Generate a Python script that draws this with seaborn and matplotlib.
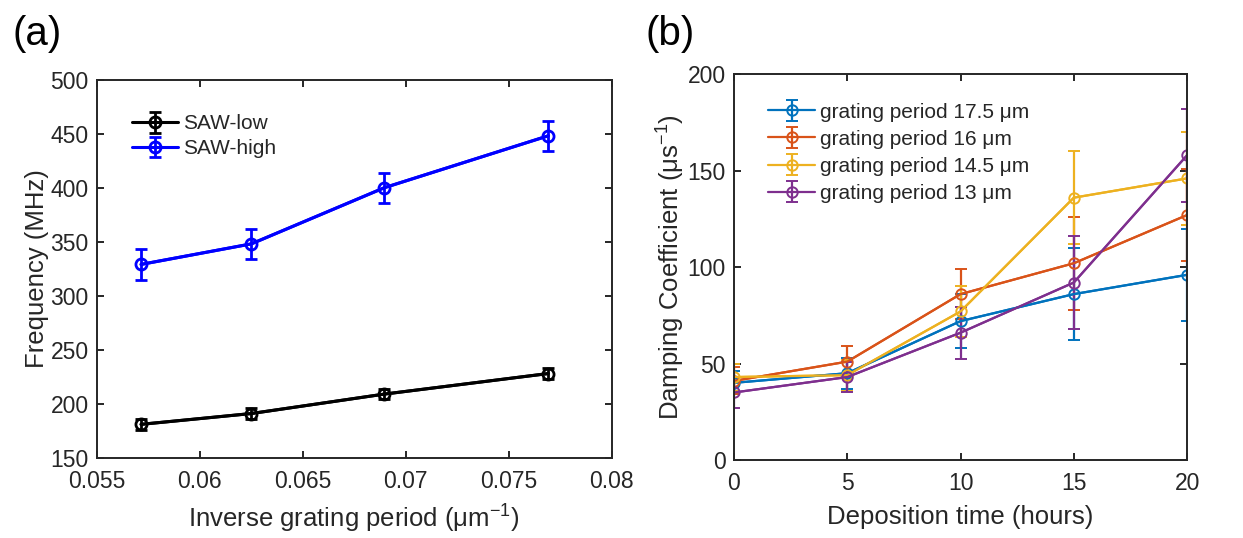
import numpy as np
import pandas as pd
import matplotlib
matplotlib.use("Agg")
import matplotlib.pyplot as plt
import seaborn as sns

# ---- data: panel (a)
inv_period = [1/17.5, 1/16, 1/14.5, 1/13]
saw_low = [181, 191, 209, 228]
saw_low_err = [5, 5, 5, 5]
saw_high = [329, 348, 400, 448]
saw_high_err = [14, 14, 14, 14]
a_xticks = [0.055, 0.06, 0.065, 0.07, 0.075, 0.08]
a_xticklabels = ["0.055", "0.06", "0.065", "0.07", "0.075", "0.08"]

# ---- data: panel (b)
dep_time = [0, 5, 10, 15, 20]
series_names = ["grating period 17.5 μm", "grating period 16 μm",
                "grating period 14.5 μm", "grating period 13 μm"]
damp_175 = [40, 45, 72, 86, 96]
damp_16 = [41, 51, 86, 102, 127]
damp_145 = [43, 44, 77, 136, 146]
damp_13 = [35, 43, 66, 92, 158]
err_175 = [6, 8, 14, 24, 24]
err_16 = [7, 8, 13, 24, 24]
err_145 = [7, 8, 13, 24, 24]
err_13 = [8, 8, 13.5, 24, 24]

sns.set_theme(style="ticks")
plt.rcParams['font.family'] = ['Liberation Sans', 'DejaVu Sans']
plt.rcParams['mathtext.fontset'] = 'custom'
plt.rcParams['mathtext.rm'] = 'Liberation Sans'
plt.rcParams['mathtext.it'] = 'Liberation Sans'
TXT = '#262626'
TICK_FS = 16.5
LAB_FS = 18.5
LEG_FS = 15

fig = plt.figure(figsize=(12.43, 5.38), dpi=100)
axa = fig.add_axes([0.078, 0.149, 0.414, 0.703])
axb = fig.add_axes([0.5905, 0.145, 0.3645, 0.717])

def style(ax):
    for s in ax.spines.values():
        s.set_color(TXT)
        s.set_linewidth(1.4)
    ax.tick_params(axis='both', direction='in', top=True, right=True, length=5, width=1.4,
                   colors=TXT, labelsize=TICK_FS, labelcolor=TXT)
    ax.tick_params(axis='x', pad=9)
    ax.tick_params(axis='y', pad=6)

# panel (a)
dfa = pd.DataFrame({"x": inv_period * 2,
                    "y": saw_low + saw_high,
                    "s": ["SAW-low"] * 4 + ["SAW-high"] * 4})
sns.lineplot(data=dfa, x="x", y="y", hue="s", palette={"SAW-low": "black", "SAW-high": "blue"},
             ax=axa, legend=False, linewidth=2.2, marker='o', markersize=8,
             markerfacecolor='none', markeredgewidth=2)
for y, e, c, lab in [(saw_low, saw_low_err, 'black', 'SAW-low'),
                     (saw_high, saw_high_err, 'blue', 'SAW-high')]:
    axa.errorbar(inv_period, y, yerr=e, fmt='-o', color=c, lw=2.2, ms=8, mfc='none',
                 mew=2, capsize=4, capthick=2, elinewidth=2, label=lab)
axa.set_xlim(0.055, 0.08)
axa.set_ylim(150, 500)
axa.set_xticks(a_xticks)
axa.set_xticklabels(a_xticklabels)
axa.set_yticks(np.arange(150, 501, 50))
axa.set_xlabel("Inverse grating period (μm$^{-1}$)", fontsize=LAB_FS, color=TXT, labelpad=7)
axa.set_ylabel("Frequency (MHz)", fontsize=LAB_FS, color=TXT, labelpad=1)
style(axa)
axa.legend(loc='upper left', frameon=False, fontsize=LEG_FS, handlelength=2.2,
           borderaxespad=0.0, handletextpad=0.25, labelspacing=0.28,
           bbox_to_anchor=(0.052, 0.93))

# panel (b)
colors = ['#0072BD', '#D95319', '#EDB120', '#7E2F8E']
vals = [damp_175, damp_16, damp_145, damp_13]
errs = [err_175, err_16, err_145, err_13]
dfb = pd.DataFrame({"t": dep_time * 4,
                    "d": sum(vals, []),
                    "s": sum([[n] * 5 for n in series_names], [])})
sns.lineplot(data=dfb, x="t", y="d", hue="s", palette=dict(zip(series_names, colors)),
             ax=axb, legend=False, linewidth=1.6, marker='o', markersize=7.5,
             markerfacecolor='none', markeredgewidth=1.4)
for v, e, c, n in zip(vals, errs, colors, series_names):
    axb.errorbar(dep_time, v, yerr=e, fmt='-o', color=c, lw=1.6, ms=7.5, mfc='none',
                 mew=1.4, capsize=4, capthick=1.6, elinewidth=1.6, label=n)
axb.set_xlim(0, 20)
axb.set_ylim(0, 200)
axb.set_xticks(dep_time)
axb.set_yticks([0, 50, 100, 150, 200])
axb.set_xlabel("Deposition time (hours)", fontsize=LAB_FS, color=TXT, labelpad=7)
axb.set_ylabel("Damping Coefficient (μs$^{-1}$)", fontsize=LAB_FS, color=TXT, labelpad=0)
style(axb)
axb.legend(loc='upper left', frameon=False, fontsize=LEG_FS, handlelength=2.25,
           borderaxespad=0.0, handletextpad=0.25, labelspacing=0.39,
           bbox_to_anchor=(0.057, 0.948))

fig.text(0.0097, 0.937, "(a)", fontsize=29, color='black', va='center', ha='left')
fig.text(0.519, 0.937, "(b)", fontsize=29, color='black', va='center', ha='left')

fig.savefig("out.png", dpi=100, facecolor='white')
